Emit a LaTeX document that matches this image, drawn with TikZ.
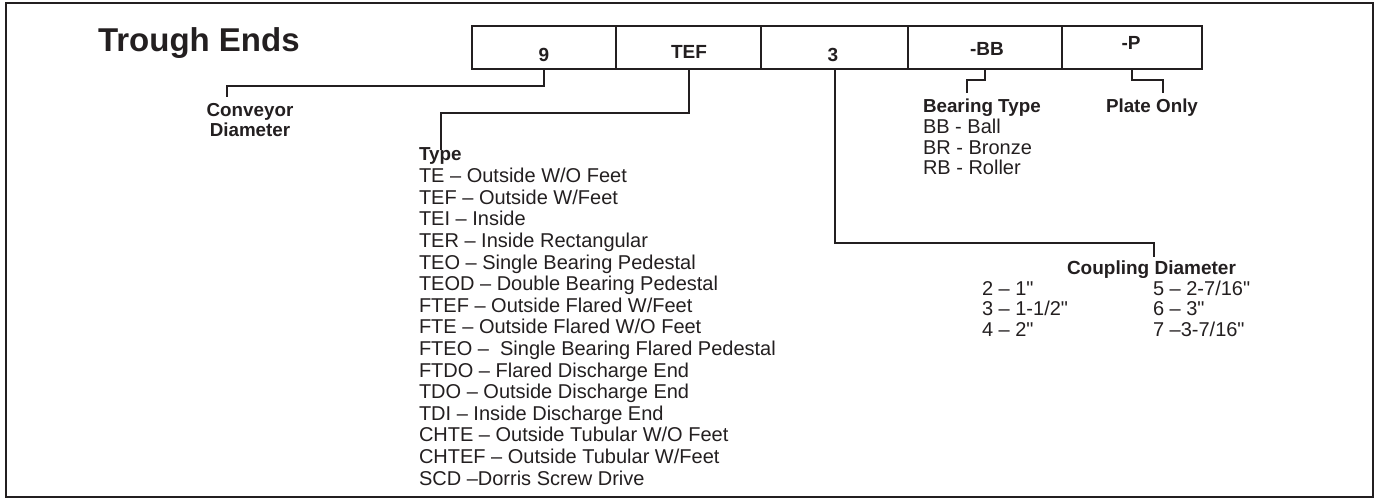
\documentclass[tikz,border=0pt]{standalone}
\usepackage{fontspec}
\setmainfont{Liberation Sans}
\definecolor{ink}{HTML}{231F20}
\newcommand{\inch}{\textquotedbl}
\begin{document}
\begin{tikzpicture}[x=1pt,y=-1pt,
  every node/.style={inner sep=0pt, outer sep=0pt, text=ink},
  reg/.style={font=\fontsize{20}{22}\selectfont, anchor=base west},
  hdr/.style={font=\bfseries\fontsize{18.8}{21}\selectfont, anchor=base west},
  cell/.style={draw=ink, line width=2pt, minimum height=43pt},
  lbl/.style={font=\bfseries\fontsize{19}{21}\selectfont, anchor=base},
  link/.style={draw=ink, line width=2pt}]

\useasboundingbox (0,0) rectangle (1380,502);
\draw[line width=2.5pt, draw=ink] (6,3) rectangle (1373,497);

\node[font=\bfseries\fontsize{33}{36}\selectfont, anchor=base west] (title) at (98,52) {Trough Ends};

% code cells
\node[cell, minimum width=144pt] (b1) at (544,47.5) {};
\node[cell, minimum width=145pt] (b2) at (688.5,47.5) {};
\node[cell, minimum width=147pt] (b3) at (834.5,47.5) {};
\node[cell, minimum width=154pt] (b4) at (985,47.5) {};
\node[cell, minimum width=140pt] (b5) at (1132,47.5) {};

\node[lbl] (l1) at (544,61.5) {9};
\node[lbl] (l2) at (689,59) {TEF};
\node[lbl] (l3) at (833,61.5) {3};
\node[lbl] (l4) at (987,56) {-BB};
\node[lbl] (l5) at (1131,50) {-P};

% connector ends
\coordinate (e1) at (227,97);
\coordinate (e2) at (441,150);
\coordinate (e3) at (1154,257);
\coordinate (e4) at (967,93);
\coordinate (e5) at (1163,93);

\draw[link] (b1.south) -- ++(0,17) -| (e1);
\draw[link] (b2.south) -- ++(0,44) -| (e2);
\draw[link] (b3.south) -- ++(0,174) -| (e3);
\draw[link] (b4.south) -- ++(0,11) -| (e4);
\draw[link] (b5.south) -- ++(0,11) -| (e5);

% conveyor diameter
\node[hdr, anchor=base] (cd1) at (250,117) {Conveyor};
\node[hdr, anchor=base] (cd2) at (250,137) {Diameter};

% type list
\node[hdr] (typ) at (419,161) {Type};
\foreach \t [count=\i from 0] in {
  TE \textendash{} Outside W/O Feet,
  TEF \textendash{} Outside W/Feet,
  TEI \textendash{} Inside,
  TER \textendash{} Inside Rectangular,
  TEO \textendash{} Single Bearing Pedestal,
  TEOD \textendash{} Double Bearing Pedestal,
  FTEF \textendash{} Outside Flared W/Feet,
  FTE \textendash{} Outside Flared W/O Feet,
  FTEO \textendash\ \ Single Bearing Flared Pedestal,
  FTDO \textendash{} Flared Discharge End,
  TDO \textendash{} Outside Discharge End,
  TDI \textendash{} Inside Discharge End,
  CHTE \textendash{} Outside Tubular W/O Feet,
  CHTEF \textendash{} Outside Tubular W/Feet,
  SCD \textendash{}Dorris Screw Drive}
  \node[reg] (ty\i) at (419,{182.7+21.6*\i}) {\t};

% bearing type
\node[hdr] (bt) at (923,112.3) {Bearing Type};
\node[reg] (bt1) at (923,133.3) {BB - Ball};
\node[reg] (bt2) at (923,154.3) {BR - Bronze};
\node[reg] (bt3) at (923,175) {RB - Roller};

% plate only
\node[hdr] (po) at (1106,112.3) {Plate Only};

% coupling diameter
\node[hdr, font=\bfseries\fontsize{19}{21}\selectfont] (cp) at (1067,274.3) {Coupling Diameter};
\node[reg] (c2) at (982,295) {2 \textendash{} 1\inch};
\node[reg] (c3) at (982,316) {3 \textendash{} 1-1/2\inch};
\node[reg] (c4) at (982,336.7) {4 \textendash{} 2\inch};
\node[reg] (c5) at (1153,295) {5 \textendash{} 2-7/16\inch};
\node[reg] (c6) at (1153,316) {6 \textendash{} 3\inch};
\node[reg] (c7) at (1153,336.7) {7 \textendash{}3-7/16\inch};
\end{tikzpicture}
\end{document}
